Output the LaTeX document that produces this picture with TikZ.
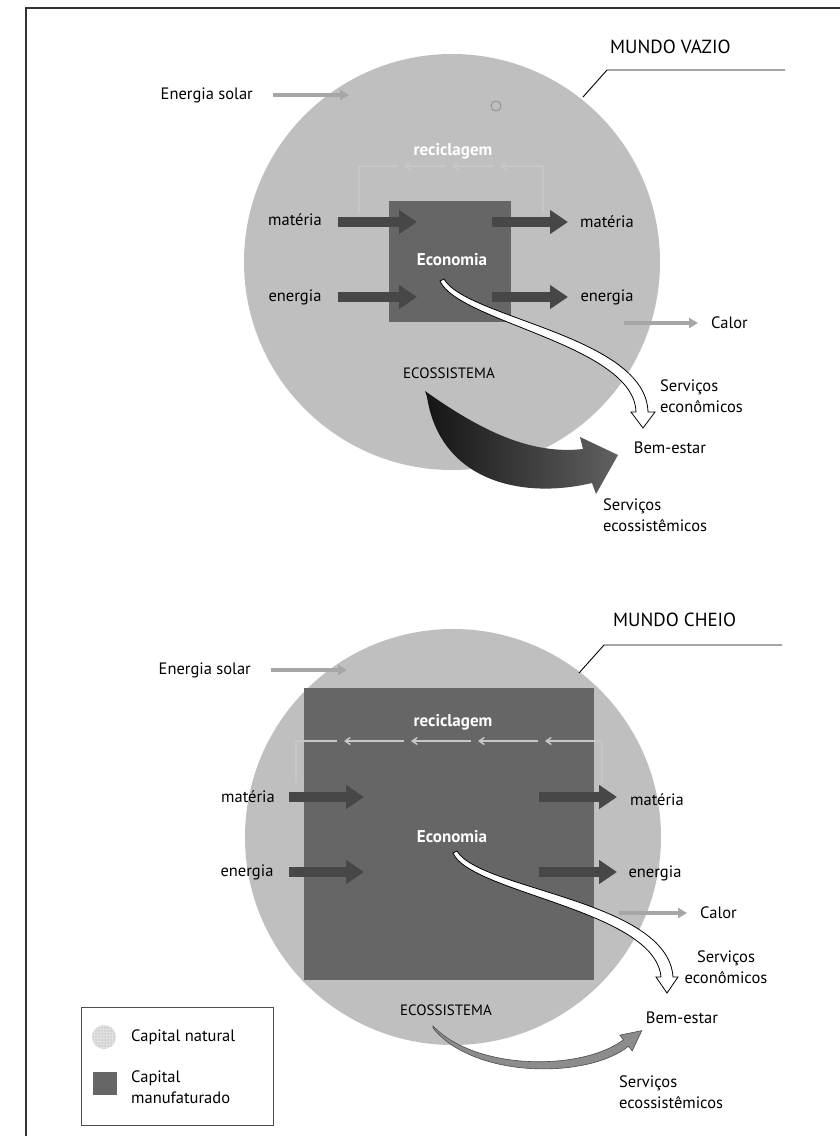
\documentclass[tikz,border=0pt]{standalone}
\usepackage{fontspec}
\setmainfont{PT Sans}
\usetikzlibrary{arrows.meta,patterns}
\begin{document}
\begin{tikzpicture}[x=1pt,y=-1pt,
  lbl/.style={font=\fontsize{16.5}{20.5}\selectfont, inner sep=0pt},
  ttl/.style={font=\fontsize{19}{22}\selectfont, inner sep=0pt},
  wht/.style={font=\bfseries\fontsize{17}{19}\selectfont, text=white, inner sep=0pt},
  eco/.style={font=\fontsize{15}{17}\selectfont, inner sep=0pt},
  flow/.style={draw=black!72, line width=10pt, -{Triangle[length=18pt,width=23pt]}},
  sunflow/.style={draw=black!35, line width=4pt, -{Triangle[length=9pt,width=10pt]}},
  rec/.style={draw=white!78!black, line width=2pt},
  recarrow/.style={draw=white!78!black, line width=1.5pt, -{Straight Barb[length=5pt,width=7pt]}},
  leader/.style={draw=black, line width=0.9pt},
  natural/.style={fill=black!25},
  manuf/.style={fill=black!60},
  servico/.style={fill=white, draw=black, line width=0.8pt},
]
\useasboundingbox (0,0) rectangle (840,1136);
\fill[white] (0,0) rectangle (840,1136);
\draw[line width=1.5pt, black!80] (26,1136) -- (26,8) -- (840,8);

% ================= MUNDO VAZIO =================
\fill[natural] (452,262) circle[radius=208];
\draw[black!45, line width=0.8pt] (496,106) circle[radius=5];
% recycling
\draw[rec] (543,213) -- (543,166);
\draw[rec] (359,166) -- (359,213);
\draw[recarrow] (543,166) -- (500,166);
\draw[recarrow] (494,166) -- (452,166);
\draw[recarrow] (446,166) -- (404,166);
\draw[rec] (398,166) -- (359,166);
\node[wht] (recA) at (453,151) {reciclagem};
% economy
\fill[manuf] (389,201) rectangle (511,322);
\node[wht] (econA) at (452,260) {Economia};
% flows
\node[lbl] (mLA) at (295,220) {matéria};
\node[lbl] (eLA) at (295,297) {energia};
\node[lbl] (mRA) at (607,222) {matéria};
\node[lbl] (eRA) at (607,297) {energia};
\coordinate (mLA1) at (338,222); \coordinate (mLA2) at (417,222);
\coordinate (eLA1) at (338,297); \coordinate (eLA2) at (417,297);
\coordinate (mRA1) at (492,222); \coordinate (mRA2) at (568,222);
\coordinate (eRA1) at (492,297); \coordinate (eRA2) at (568,297);
\draw[flow] (mLA1) -- (mLA2);
\draw[flow] (eLA1) -- (eLA2);
\draw[flow] (mRA1) -- (mRA2);
\draw[flow] (eRA1) -- (eRA2);
% sun and heat
\node[lbl, anchor=east] (solA) at (253,95) {Energia solar};
\coordinate (solA1) at (273,95); \coordinate (solA2) at (349,95);
\draw[sunflow] (solA1) -- (solA2);
\coordinate (calA1) at (624,323); \coordinate (calA2) at (698,323);
\draw[sunflow] (calA1) -- (calA2);
\node[lbl, anchor=west] (calA) at (711,323) {Calor};
% title
\node[ttl, anchor=west] (tA) at (610,47) {MUNDO VAZIO};
\coordinate (ldA1) at (583,97); \coordinate (ldA2) at (607,70); \coordinate (ldA3) at (785,70);
\draw[leader] (ldA1) -- (ldA2) -- (ldA3);
\node[eco] (ecoA) at (449,373) {ECOSSISTEMA};
% economic services (white arrow)
\filldraw[servico] (440,281) .. controls (458,322) and (634,345) .. (636,412)
  -- (631,412) -- (643,428) -- (655,412) -- (648,412)
  .. controls (646,336) and (466,318) .. (444,279) -- cycle;
\node[lbl, align=left, anchor=west] (seA) at (660,396) {Serviços\\econômicos};
\node[lbl] (bemA) at (670,448) {Bem-estar};
% ecosystem services (dark arrow)
\shade[left color=black!92, right color=black!62]
  (425,391) .. controls (480,430) and (530,455) .. (583,449)
  -- (580,437) -- (618,455) -- (596,494) -- (592,483)
  .. controls (520,500) and (440,480) .. (427,397) -- cycle;
\node[lbl, align=left, anchor=west] (ssA) at (603,515) {Serviços\\ecossistêmicos};

% ================= MUNDO CHEIO =================
\fill[natural] (453,837) circle[radius=208];
\fill[manuf] (304,688) rectangle (594,980);
% recycling
\draw[rec] (602,783) -- (602,741);
\draw[rec] (296,741) -- (296,783);
\draw[recarrow] (602,741) -- (545,741);
\draw[recarrow] (538,741) -- (478,741);
\draw[recarrow] (471,741) -- (411,741);
\draw[recarrow] (404,741) -- (344,741);
\draw[rec] (337,741) -- (296,741);
\node[wht] (recB) at (453,722) {reciclagem};
\node[wht] (econB) at (452,837) {Economia};
% flows
\node[lbl] (mLB) at (248,797) {matéria};
\node[lbl] (eLB) at (247,872) {energia};
\node[lbl] (mRB) at (657,800) {matéria};
\node[lbl] (eRB) at (655,873) {energia};
\coordinate (mLB1) at (289,797); \coordinate (mLB2) at (364,797);
\coordinate (eLB1) at (289,872); \coordinate (eLB2) at (364,872);
\coordinate (mRB1) at (539,797); \coordinate (mRB2) at (617,797);
\coordinate (eRB1) at (539,872); \coordinate (eRB2) at (617,872);
\draw[flow] (mLB1) -- (mLB2);
\draw[flow] (eLB1) -- (eLB2);
\draw[flow] (mRB1) -- (mRB2);
\draw[flow] (eRB1) -- (eRB2);
% sun and heat
\node[lbl, anchor=east] (solB) at (251,670) {Energia solar};
\coordinate (solB1) at (271,670); \coordinate (solB2) at (347,670);
\draw[sunflow] (solB1) -- (solB2);
\coordinate (calB1) at (619,913); \coordinate (calB2) at (687,913);
\draw[sunflow] (calB1) -- (calB2);
\node[lbl, anchor=west] (calB) at (700,913) {Calor};
% title
\node[ttl, anchor=west] (tB) at (613,620) {MUNDO CHEIO};
\coordinate (ldB1) at (579,673); \coordinate (ldB2) at (604,645); \coordinate (ldB3) at (782,645);
\draw[leader] (ldB1) -- (ldB2) -- (ldB3);
\node[eco] (ecoB) at (446,1010) {ECOSSISTEMA};
% economic services
\filldraw[servico] (453,853) .. controls (470,893) and (655,910) .. (661,977)
  -- (656,977) -- (667,993) -- (678,977) -- (673,977)
  .. controls (668,900) and (480,890) .. (457,851) -- cycle;
\node[lbl, align=center] (seB) at (726,967) {Serviços\\econômicos};
\node[lbl] (bemB) at (682,1018) {Bem-estar};
% ecosystem services (small arrow)
\filldraw[fill=black!45, draw=black!70, line width=0.6pt]
  (433,1026) .. controls (476,1071) and (582,1071) .. (623.5,1039.8)
  -- (619.8,1035.1) -- (641.8,1030.6) -- (632.2,1050.9) -- (628.5,1046.2)
  .. controls (588,1079) and (474,1079) .. (433,1028) -- cycle;
\node[lbl, align=left, anchor=west] (ssB) at (619,1092) {Serviços\\ecossistêmicos};

% ================= LEGENDA =================
\draw[black!70, line width=0.8pt] (81,1007) rectangle (273,1125);
\fill[black!12] (104,1037) circle[radius=12];
\fill[pattern=dots, pattern color=black!45] (104,1037) circle[radius=12];
\node[lbl, anchor=west] (lgN) at (131,1037) {Capital natural};
\fill[black!60] (93,1072) rectangle (117,1095);
\node[lbl, align=left, anchor=west] (lgM) at (131,1087) {Capital\\manufaturado};
\end{tikzpicture}
\end{document}
